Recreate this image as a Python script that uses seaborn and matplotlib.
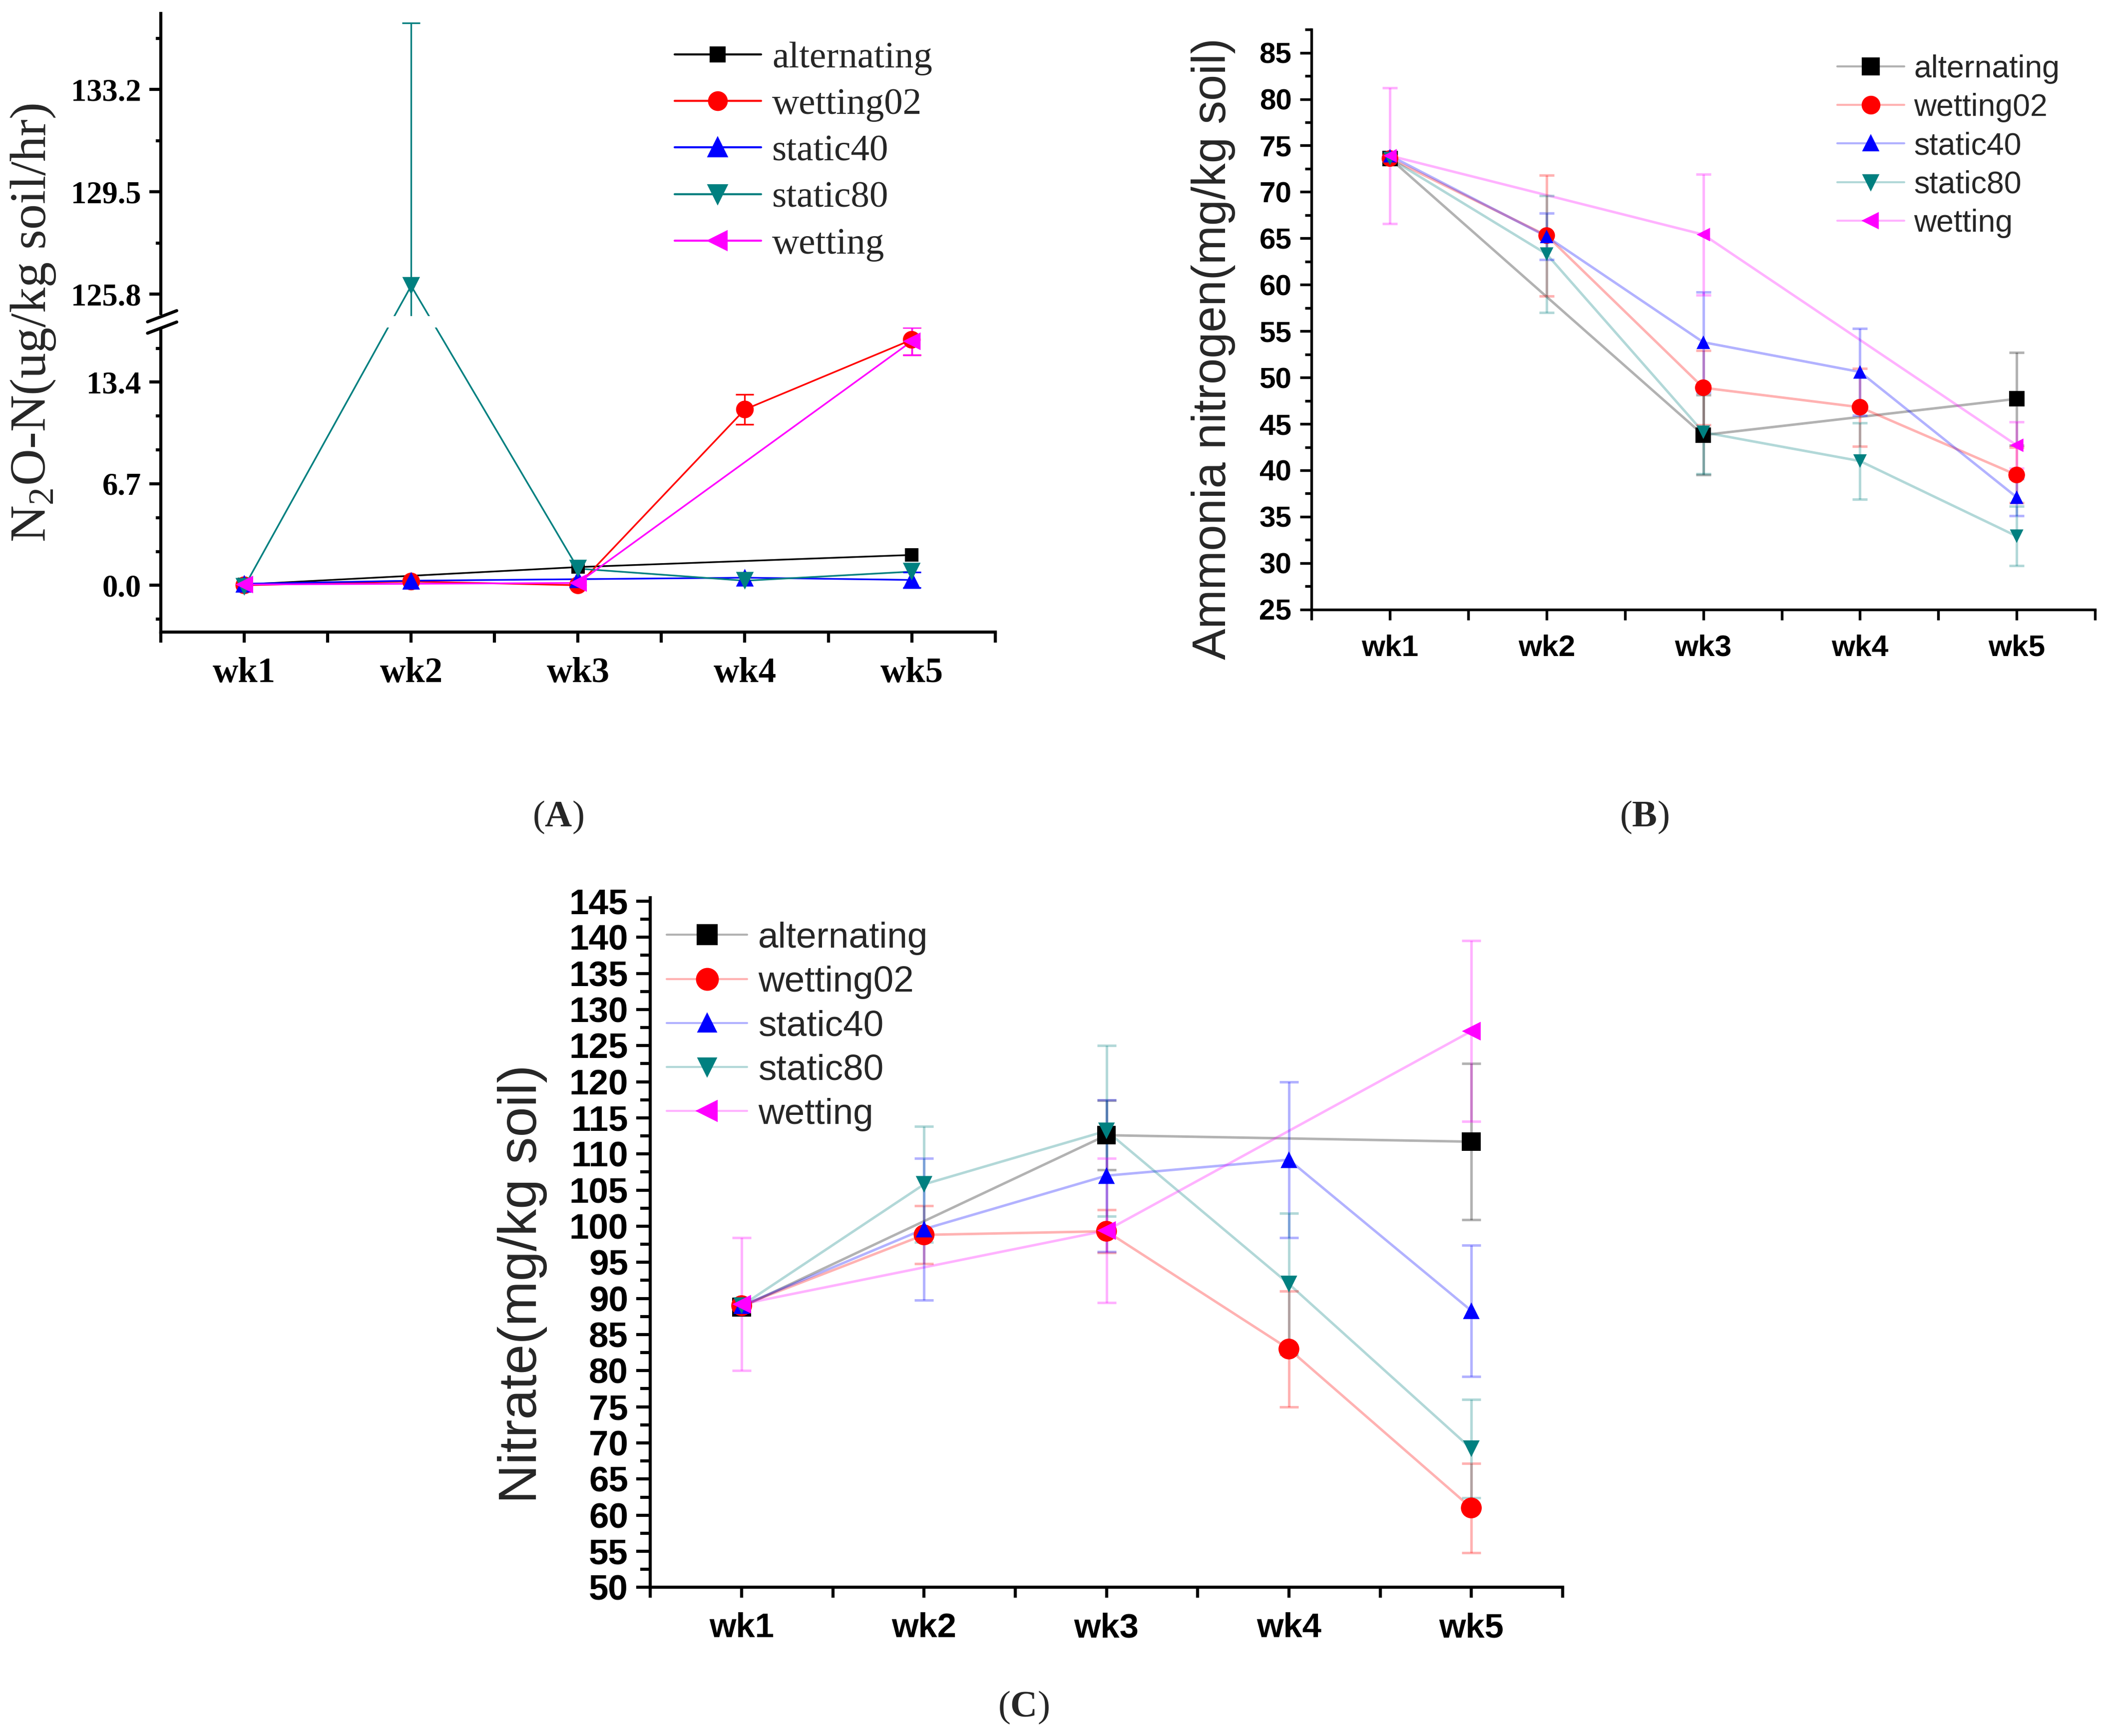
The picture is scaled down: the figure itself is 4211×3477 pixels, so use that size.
import numpy as np
import pandas as pd
import seaborn as sns
import matplotlib.pyplot as plt
from matplotlib.colors import to_rgb
from matplotlib.lines import Line2D
from matplotlib.patches import Rectangle
from matplotlib.ticker import FixedLocator, MultipleLocator

nan = np.nan

weeks = ["wk1", "wk2", "wk3", "wk4", "wk5"]
treatments = ["alternating", "wetting02", "static40", "static80", "wetting"]
colors = ["#000000", "#ff0000", "#0000ff", "#008080", "#ff00ff"]
markers = ["s", "o", "^", "v", "<"]

# (A) N2O-N, ug/kg soil/hr
n2o_alternating = [0.05, nan, 1.2, nan, 2.0]
n2o_wetting02 = [0.0, 0.25, 0.0, 11.6, 16.2]
n2o_static40 = [0.1, 0.3, 0.4, 0.5, 0.35]
n2o_static80 = [-0.1, 126.1, 1.1, 0.3, 0.9]
n2o_wetting = [0.05, nan, 0.15, nan, 16.1]
n2o_sd_alternating = [0.0, nan, 0.0, nan, 0.0]
n2o_sd_wetting02 = [0.0, 0.0, 0.0, 1.0, 1.0]
n2o_sd_static40 = [0.0, 0.0, 0.0, 0.0, 0.5]
n2o_sd_static80 = [0.0, 9.5, 0.0, 0.0, 0.0]
n2o_sd_wetting = [0.0, nan, 0.0, nan, 0.9]

# (B) ammonia nitrogen, mg/kg soil
nh4_alternating = [73.6, nan, 43.8, nan, 47.7]
nh4_wetting02 = [73.6, 65.3, 48.9, 46.8, 39.5]
nh4_static40 = [73.9, 65.2, 53.8, 50.6, 37.1]
nh4_static80 = [73.6, 63.3, 44.1, 41.0, 32.9]
nh4_wetting = [73.9, nan, 65.4, nan, 42.7]
nh4_sd_alternating = [0.0, nan, 4.3, nan, 5.0]
nh4_sd_wetting02 = [0.0, 6.5, 4.0, 4.2, 3.0]
nh4_sd_static40 = [0.0, 2.5, 5.4, 4.7, 2.0]
nh4_sd_static80 = [0.0, 6.3, 4.5, 4.1, 3.2]
nh4_sd_wetting = [7.3, nan, 6.5, nan, 2.5]

# (C) nitrate, mg/kg soil
no3_alternating = [88.8, nan, 112.6, nan, 111.7]
no3_wetting02 = [89.0, 98.8, 99.3, 83.0, 61.0]
no3_static40 = [89.0, 99.6, 107.0, 109.2, 88.3]
no3_static80 = [89.0, 105.8, 113.2, 92.0, 69.2]
no3_wetting = [89.2, nan, 99.4, nan, 127.0]
no3_sd_alternating = [0.0, nan, 4.8, nan, 10.8]
no3_sd_wetting02 = [0.0, 4.0, 3.0, 8.0, 6.2]
no3_sd_static40 = [0.0, 9.8, 10.5, 10.8, 9.1]
no3_sd_static80 = [0.0, 8.0, 11.8, 9.8, 6.8]
no3_sd_wetting = [9.2, nan, 10.0, nan, 12.5]

# y-axis break of panel A
lower_top, upper_bottom, gap, upper_stretch = 17.0, 125.0, 0.75, 1.825
xp = np.array([-1000.0, lower_top, upper_bottom, 1000.0])
fp = np.array([-1000.0, lower_top, lower_top + gap,
               lower_top + gap + (1000.0 - upper_bottom) * upper_stretch])


def fwd(y):
    return np.interp(y, xp, fp)


def inv(y):
    return np.interp(y, fp, xp)


def long_frame(means, sds):
    rows = []
    for name, m, s in zip(treatments, means, sds):
        for i, (v, e) in enumerate(zip(m, s)):
            if not np.isnan(v):
                rows.append((name, i + 1, v, e))
    return pd.DataFrame(rows, columns=["treatment", "week", "value", "sd"])


def draw_series(ax, df, line_alpha, msizes, lw, capsize):
    pal = dict(zip(treatments, colors))
    sns.lineplot(data=df, x="week", y="value", hue="treatment", hue_order=treatments,
                 palette=pal, estimator=None, errorbar=None, lw=lw, alpha=line_alpha,
                 legend=False, ax=ax, zorder=2)
    for name in treatments:
        sub = df[(df.treatment == name) & (df.sd > 0)]
        ax.errorbar(sub.week, sub.value, yerr=sub.sd, fmt="none", ecolor=pal[name],
                    alpha=line_alpha, elinewidth=lw, capsize=capsize, capthick=lw, zorder=2.5)
    sns.scatterplot(data=df, x="week", y="value", hue="treatment", style="treatment",
                    size="treatment", hue_order=treatments, style_order=treatments,
                    size_order=treatments, palette=pal,
                    markers=dict(zip(treatments, markers)),
                    sizes={t: m ** 2 for t, m in zip(treatments, msizes)},
                    linewidth=0, legend=False, ax=ax, zorder=3)


def add_legend(ax, family, size, msizes, line_alpha, anchor, hlen, spacing):
    handles = []
    for c, m, ms in zip(colors, markers, msizes):
        handles.append(Line2D([], [], color=(*to_rgb(c), line_alpha), lw=1.0,
                              marker=m, ms=ms, mec=c, mfc=c))
    ax.legend(handles, treatments, loc="upper left", bbox_to_anchor=anchor,
              frameon=False, borderpad=0, borderaxespad=0, handlelength=hlen,
              handletextpad=0.3, labelspacing=spacing,
              prop={"family": family, "size": size})


def style_axes(ax, family, xsize, ysize, weight, ylen, minor_ratio, lw):
    sns.despine(ax=ax)
    for side in ("left", "bottom"):
        ax.spines[side].set_linewidth(lw)
    ax.set_xlim(0.5, 5.5)
    ax.set_xticks(range(1, 6))
    ax.set_xticklabels(weeks)
    ax.xaxis.set_minor_locator(FixedLocator([0.5, 1.5, 2.5, 3.5, 4.5, 5.5]))
    ax.tick_params(axis="x", which="both", direction="out", length=5, width=lw, pad=7)
    ax.tick_params(axis="y", which="major", direction="out", length=ylen, width=lw, pad=4)
    ax.tick_params(axis="y", which="minor", direction="out", length=ylen * minor_ratio,
                   width=lw)
    for lbl in ax.get_xticklabels():
        lbl.set_fontfamily(family)
        lbl.set_fontsize(xsize)
        lbl.set_fontweight(weight)
    for lbl in ax.get_yticklabels():
        lbl.set_fontfamily(family)
        lbl.set_fontsize(ysize)
        lbl.set_fontweight(weight)
    ax.set_xlabel("")


sns.set_style("ticks")
plt.rcParams["mathtext.fontset"] = "custom"
plt.rcParams["mathtext.rm"] = "Liberation Serif"
plt.rcParams["mathtext.bf"] = "Liberation Serif:bold"
plt.rcParams["axes.edgecolor"] = "black"
plt.rcParams["xtick.color"] = "black"
plt.rcParams["ytick.color"] = "black"

fig = plt.figure(figsize=(4211 / 300, 3477 / 300), dpi=300)
ax_a = fig.add_axes([0.0765, 0.6358, 0.3967, 0.3565])
ax_b = fig.add_axes([0.6237, 0.6489, 0.3725, 0.3341])
ax_c = fig.add_axes([0.3093, 0.0856, 0.4337, 0.3974])

# ---------- panel A ----------
df_a = long_frame([n2o_alternating, n2o_wetting02, n2o_static40, n2o_static80, n2o_wetting],
                  [n2o_sd_alternating, n2o_sd_wetting02, n2o_sd_static40, n2o_sd_static80,
                   n2o_sd_wetting])
ms_a = [6.5, 8.5, 8.5, 8.5, 8.5]
ax_a.set_yscale("function", functions=(fwd, inv))
draw_series(ax_a, df_a, 1.0, ms_a, 0.8, 4.3)
ax_a.axhspan(lower_top, upper_bottom, color="white", lw=0, zorder=2.8)
ax_a.set_ylim(-3.1, 135.95)
ax_a.yaxis.set_major_locator(FixedLocator([0.0, 6.7, 13.4, 125.8, 129.5, 133.2]))
ax_a.yaxis.set_minor_locator(FixedLocator([-2.23, 2.23, 4.47, 8.93, 11.17, 15.63,
                                           127.65, 131.35, 135.05]))
ax_a.set_yticklabels(["0.0", "6.7", "13.4", "125.8", "129.5", "133.2"])
style_axes(ax_a, "Liberation Serif", 17, 15, "bold", 5.5, 0.45, 1.5)
ax_a.set_ylabel(r"N$_{\mathrm{2}}$O-N(ug/kg soil/hr)", fontfamily="Liberation Serif",
                fontsize=24.5)
ax_a.yaxis.set_label_coords(-0.124, 0.5)
add_legend(ax_a, "Liberation Serif", 18, ms_a, 1.0, (0.616, 0.955), 2.3, 0.33)

# break marks on the left spine
lo, hi = fwd(-3.1), fwd(135.95)
yb = (fwd(lower_top) - lo) / (hi - lo)
yt = (fwd(upper_bottom) - lo) / (hi - lo)
ax_a.add_patch(Rectangle((-0.01, yb), 0.02, yt - yb, transform=ax_a.transAxes,
                         color="white", clip_on=False, zorder=4))
for y0 in (yb, yt):
    ax_a.plot([-0.016, 0.019], [y0 - 0.009, y0 + 0.009], color="black", lw=1.5,
              transform=ax_a.transAxes, clip_on=False, zorder=5)

# ---------- panel B ----------
df_b = long_frame([nh4_alternating, nh4_wetting02, nh4_static40, nh4_static80, nh4_wetting],
                  [nh4_sd_alternating, nh4_sd_wetting02, nh4_sd_static40, nh4_sd_static80,
                   nh4_sd_wetting])
ms_b = [7.5, 8.0, 6.5, 6.5, 6.5]
draw_series(ax_b, df_b, 0.3, ms_b, 1.2, 3.5)
ax_b.set_ylim(25, 87.5)
ax_b.yaxis.set_major_locator(MultipleLocator(5))
ax_b.yaxis.set_minor_locator(MultipleLocator(2.5))
style_axes(ax_b, "Liberation Sans", 14.5, 14, "bold", 5.6, 0.57, 1.3)
ax_b.set_ylabel("Ammonia nitrogen(mg/kg soil)", fontfamily="Liberation Sans", fontsize=22.5)
ax_b.yaxis.set_label_coords(-0.097, 0.45)
add_legend(ax_b, "Liberation Sans", 15, ms_b, 0.3, (0.671, 0.957), 2.15, 0.29)

# ---------- panel C ----------
df_c = long_frame([no3_alternating, no3_wetting02, no3_static40, no3_static80, no3_wetting],
                  [no3_sd_alternating, no3_sd_wetting02, no3_sd_static40, no3_sd_static80,
                   no3_sd_wetting])
ms_c = [9.0, 10.0, 8.0, 8.0, 9.0]
draw_series(ax_c, df_c, 0.3, ms_c, 1.2, 4.5)
ax_c.set_ylim(50, 145.5)
ax_c.yaxis.set_major_locator(MultipleLocator(5))
ax_c.yaxis.set_minor_locator(MultipleLocator(2.5))
style_axes(ax_c, "Liberation Sans", 16.5, 17, "bold", 6.7, 0.7, 1.5)
ax_c.set_ylabel("Nitrate(mg/kg soil)", fontfamily="Liberation Sans", fontsize=26)
ax_c.yaxis.set_label_coords(-0.113, 0.44)
add_legend(ax_c, "Liberation Sans", 17.5, ms_c, 0.3, (0.018, 0.965), 2.2, 0.29)

# panel captions
for label, x, y in [("A", 0.2653, 0.529), ("B", 0.7819, 0.529), ("C", 0.4866, 0.0162)]:
    fig.text(x, y, "($\\mathbf{%s}$)" % label, ha="center", va="center",
             fontfamily="Liberation Serif", fontsize=18)

fig.savefig("out.png", dpi=300, facecolor="white")
